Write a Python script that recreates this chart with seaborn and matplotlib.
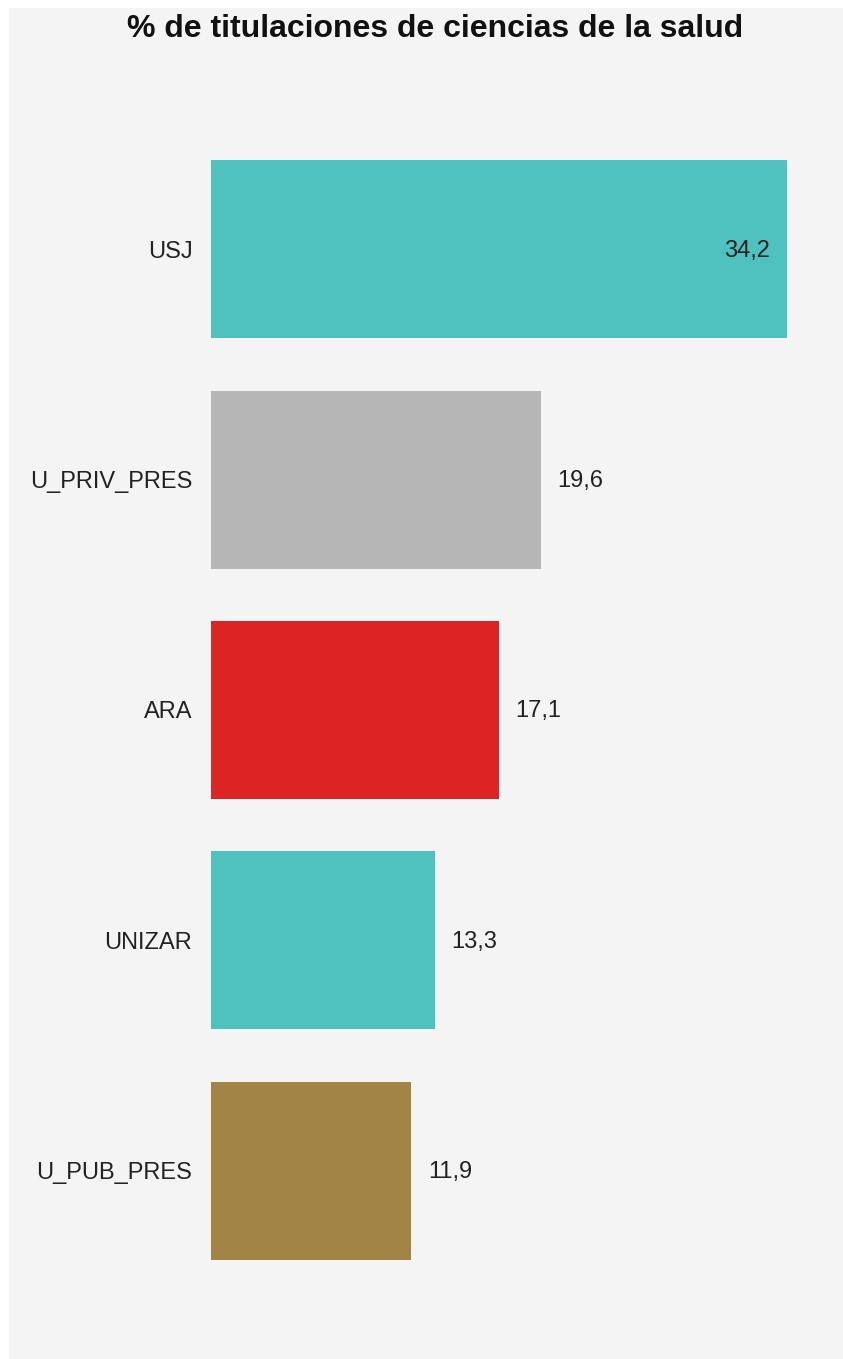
import matplotlib
matplotlib.use("Agg")
import matplotlib.pyplot as plt
import seaborn as sns
from matplotlib.patches import Rectangle

# data
universidades = ["USJ", "U_PRIV_PRES", "ARA", "UNIZAR", "U_PUB_PRES"]
porcentajes = [34.2, 19.6, 17.1, 13.3, 11.9]
colores = ["#4fc2bf", "#b6b6b6", "#dc2424", "#4fc2bf", "#a38447"]
titulo = "% de titulaciones de ciencias de la salud"

sns.set_style("white")
plt.rcParams["font.family"] = ["Liberation Sans", "DejaVu Sans"]

W, H = 843, 1359
fig = plt.figure(figsize=(W / 100, H / 100), dpi=100, facecolor="white")

# light grey panel behind everything
fig.patches.append(Rectangle((9 / W, 0), 1 - 9 / W, 1 - 8 / H,
                             transform=fig.transFigure, facecolor="#f4f4f4",
                             edgecolor="none", zorder=-10))

ax = fig.add_axes([211 / W, 1 - 1286 / H, (W - 211) / W, (1286 - 134) / H])
ax.set_facecolor("none")
ax.set_zorder(1)

sns.barplot(x=porcentajes, y=universidades, hue=universidades, palette=colores,
            orient="h", width=0.772, legend=False, saturation=1, linewidth=0,
            ax=ax)

ax.set_xlim(0, (W - 211) / 16.84)
ax.set_ylim(4.5, -0.5)
ax.set_xticks([])
ax.set_xlabel("")
ax.set_ylabel("")
for s in ax.spines.values():
    s.set_visible(False)
ax.tick_params(axis="y", length=0, pad=13.5, labelsize=17, labelcolor="#222222")

for i, v in enumerate(porcentajes):
    txt = f"{v:.1f}".replace(".", ",")
    if v > 30:
        ax.annotate(txt, (v, i), xytext=(-12, -1), textcoords="offset points",
                    ha="right", va="center", fontsize=17, color="#222222")
    else:
        ax.annotate(txt, (v, i), xytext=(12, -1), textcoords="offset points",
                    ha="left", va="center", fontsize=17, color="#222222")

fig.text(435 / W, 1 - 29 / H, titulo, ha="center", va="center",
         fontsize=23, fontweight="bold", color="#111111")

fig.savefig("out.png", dpi=100, facecolor="white")
